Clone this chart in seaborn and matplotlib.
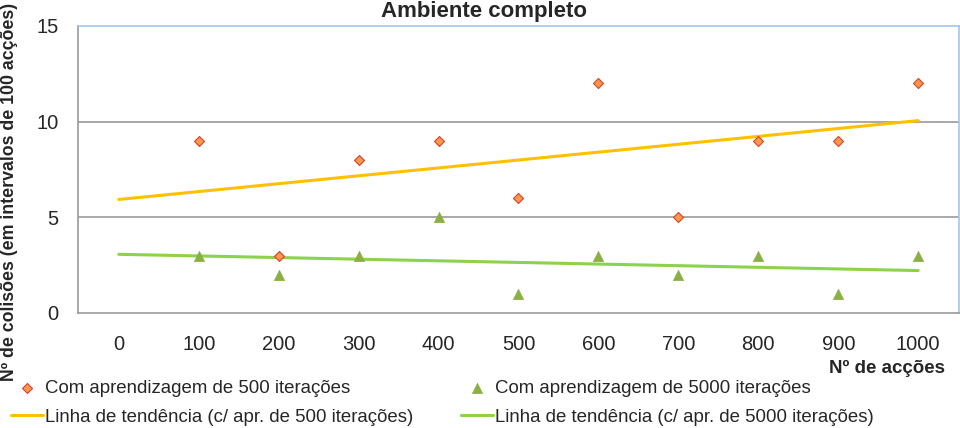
import numpy as np
import pandas as pd
import matplotlib
matplotlib.use("Agg")
import matplotlib.pyplot as plt
import seaborn as sns

# ── Données ────────────────────────────────────────────────────────────────
acoes = [100, 200, 300, 400, 500, 600, 700, 800, 900, 1000]
colisoes_500 = [9, 3, 8, 9, 6, 12, 5, 9, 9, 12]
colisoes_5000 = [3, 2, 3, 5, 1, 3, 2, 3, 1, 3]
x_ticks = [0, 100, 200, 300, 400, 500, 600, 700, 800, 900, 1000]
y_ticks = [0, 5, 10, 15]

lab_500 = "Com aprendizagem de 500 iterações"
lab_5000 = "Com aprendizagem de 5000 iterações"
lab_t500 = "Linha de tendência (c/ apr. de 500 iterações)"
lab_t5000 = "Linha de tendência (c/ apr. de 5000 iterações)"

df = pd.DataFrame({"acoes": acoes, "c500": colisoes_500, "c5000": colisoes_5000})

# linhas de tendência (regressão linear), de 0 a 1000
xt = np.array([x_ticks[0], x_ticks[-1]])
p500 = np.polyfit(df["acoes"], df["c500"], 1)
p5000 = np.polyfit(df["acoes"], df["c5000"], 1)
trend = pd.DataFrame({"x": xt, "t500": np.polyval(p500, xt), "t5000": np.polyval(p5000, xt)})

# ── Figura ─────────────────────────────────────────────────────────────────
sns.set_theme(style="white")
plt.rcParams["font.family"] = ["Liberation Sans", "DejaVu Sans"]

fig = plt.figure(figsize=(9.6, 4.28), dpi=100)
ax = fig.add_axes([0.08125, 0.2687, 0.9177, 0.6706])

sns.lineplot(data=trend, x="x", y="t500", ax=ax, color="#FFC000", lw=2.2, label=lab_t500, zorder=3)
sns.lineplot(data=trend, x="x", y="t5000", ax=ax, color="#8CD24A", lw=2.2, label=lab_t5000, zorder=3)
sns.scatterplot(data=df, x="acoes", y="c500", ax=ax, marker="D", s=26, color="#F7984A",
                edgecolor="#D9412E", linewidth=0.8, label=lab_500, zorder=4)
sns.scatterplot(data=df, x="acoes", y="c5000", ax=ax, marker="^", s=55, color="#8AB043",
                edgecolor="#8AB043", linewidth=0.5, label=lab_5000, zorder=4)

ax.set_xlim(-51, 1051)
ax.set_ylim(0, 15)
ax.set_xticks(x_ticks)
ax.set_yticks(y_ticks)
ax.tick_params(axis="x", length=0, pad=16, labelsize=14.5)
ax.tick_params(axis="y", length=0, pad=14, labelsize=14.5)
ax.set_xlabel("")
ax.set_ylabel("")

for y in [5, 10]:
    ax.axhline(y, color="#999999", lw=1.2, zorder=1)
ax.spines["left"].set_color("#999999")
ax.spines["bottom"].set_color("#999999")
ax.spines["top"].set_color("#A7C4EC")
ax.spines["right"].set_color("#A7C4EC")
for s in ax.spines.values():
    s.set_linewidth(1.2)

fig.text(484 / 960, 1 - 11 / 428, "Ambiente completo", ha="center", va="center",
         fontsize=16, fontweight="bold")
fig.text(945 / 960, 1 - 368 / 428, "Nº de acções", ha="right", va="center",
         fontsize=13.5, fontweight="bold")
fig.text(10 / 960, 1 - 192 / 428, "Nº de colisões (em intervalos de 100 acções)",
         rotation=90, ha="center", va="center", fontsize=12.8, fontweight="bold")

# légende
h, l = ax.get_legend_handles_labels()
order = [l.index(lab_500), l.index(lab_t500), l.index(lab_5000), l.index(lab_t5000)]
ax.get_legend().remove()
fig.legend([h[i] for i in order], [l[i] for i in order], ncol=2, frameon=False,
           loc="upper left", bbox_to_anchor=(0.0, 1 - 369 / 428), fontsize=13.4,
           handlelength=1.7, handletextpad=0.1, columnspacing=2.6, labelspacing=0.62,
           borderaxespad=0.2)

fig.savefig("out.png", dpi=100)
